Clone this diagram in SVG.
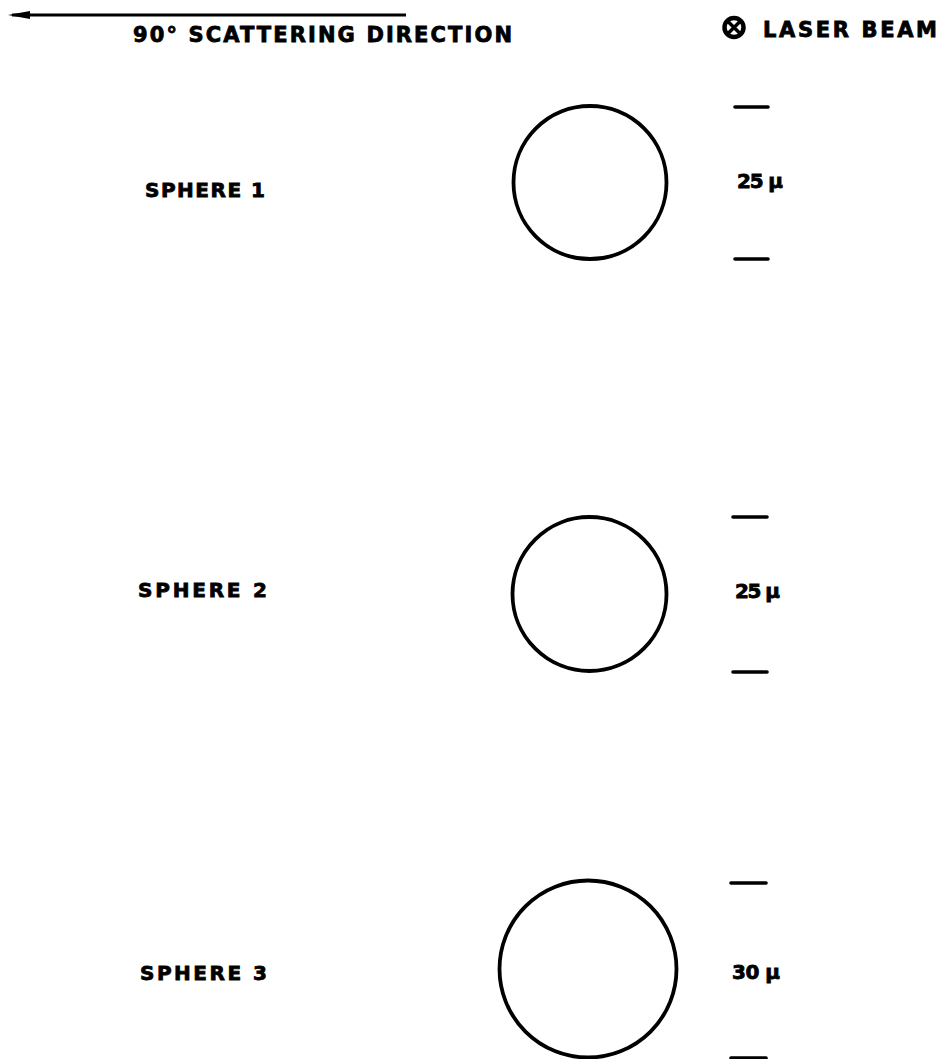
<svg xmlns="http://www.w3.org/2000/svg" width="944" height="1059" viewBox="0 0 944 1059">
<style>
.t{font-family:"DejaVu Sans","Liberation Sans",Arial,sans-serif;font-weight:bold;fill:#000;stroke:#000;stroke-width:0.8;}
.big{font-size:21px;}
.lbl{font-size:20px;}
.sph{fill:none;stroke:#000;stroke-width:3.8;}
.tick{stroke:#000;stroke-width:3.6;stroke-linecap:round;}
</style>
<rect width="944" height="1059" fill="#fff"/>
<g id="header">
<path d="M12 15 L406 15" stroke="#000" stroke-width="3.2"/>
<path d="M8 15 L30 11 L30 19 Z" fill="#000"/>
<text class="t big" x="133" y="42" textLength="379" lengthAdjust="spacing">90° SCATTERING DIRECTION</text>
<circle cx="734" cy="27.5" r="9.5" fill="none" stroke="#000" stroke-width="4.5"/>
<path d="M728 21.5 L740 33.5 M740 21.5 L728 33.5" stroke="#000" stroke-width="3.5"/>
<text class="t big" x="763" y="37" textLength="174" lengthAdjust="spacing">LASER BEAM</text>
</g>
<g id="sphere1">
<text class="t lbl" x="145" y="197" textLength="120" lengthAdjust="spacing">SPHERE 1</text>
<circle class="sph" cx="590" cy="182.5" r="76.5"/>
<line class="tick" x1="735" y1="107" x2="768" y2="107"/>
<line class="tick" x1="735" y1="259" x2="768" y2="259"/>
<text class="t lbl" x="737" y="188" textLength="46" lengthAdjust="spacing">25 μ</text>
</g>
<g id="sphere2">
<text class="t lbl" x="138" y="597" textLength="129" lengthAdjust="spacing">SPHERE 2</text>
<circle class="sph" cx="589.5" cy="594" r="77"/>
<line class="tick" x1="733" y1="517" x2="767" y2="517"/>
<line class="tick" x1="733" y1="672" x2="767" y2="672"/>
<text class="t lbl" x="735" y="598" textLength="45" lengthAdjust="spacing">25 μ</text>
</g>
<g id="sphere3">
<text class="t lbl" x="140" y="980" textLength="127" lengthAdjust="spacing">SPHERE 3</text>
<circle class="sph" cx="588" cy="969" r="88.5"/>
<line class="tick" x1="731" y1="883" x2="766" y2="883"/>
<line class="tick" x1="731" y1="1058" x2="766" y2="1058"/>
<text class="t lbl" x="732" y="979" textLength="48" lengthAdjust="spacing">30 μ</text>
</g>
<g id="connectors"></g>
</svg>
